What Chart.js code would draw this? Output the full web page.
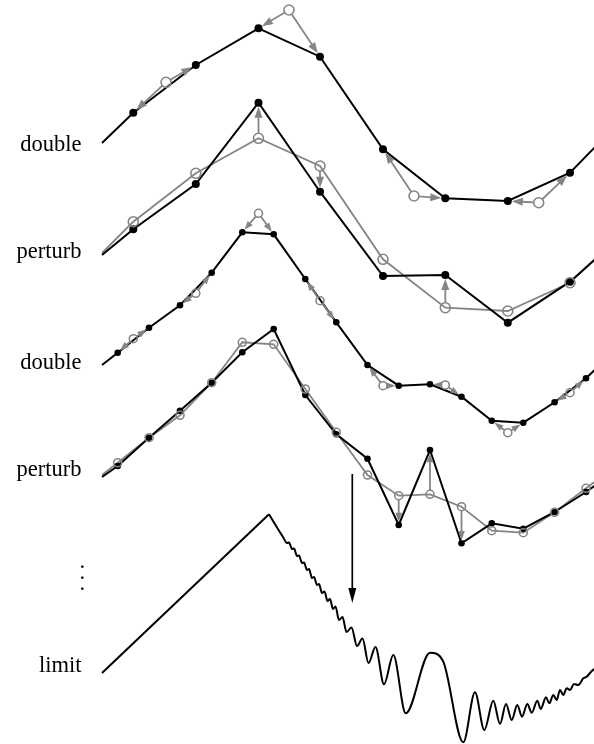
<!DOCTYPE html>
<html><head><meta charset="utf-8">
<style>html,body{margin:0;padding:0;background:#fff}canvas{display:block}</style>
<script src="https://cdn.jsdelivr.net/npm/chart.js@4/dist/chart.umd.min.js"></script>
</head><body>
<canvas id="c" width="594" height="744"></canvas>
<script>
// ---------- data ----------
const rowLabels = ['double', 'perturb', 'double', 'perturb', 'limit'];
const rowLabelY = [151, 258, 369, 476, 672];
const ellipsisY = [566, 577, 588];

// coarse level abscissae (rows 1, 2 and the grey circles of row 3)
const xCoarse = [133.3, 195.8, 258.5, 320, 383, 445.3, 507.8, 570];
// fine level abscissae (rows 3, 4)
const xFine = [117.7, 149, 180, 211.7, 242.3, 273.7, 305.3, 336.3, 367.5, 398.7, 430, 461.5, 491.8, 523.3, 554.6, 586];

const lineStartX = 102, lineEndX = 600;

// row 1 : double
const row1Black = [112.7, 65, 28.3, 56.7, 149.3, 198.3, 201, 172.7];
const row1Ends = [143, 142];
const row1GrayX = [166, 289, 414, 538.7];
const row1GrayY = [82.3, 10, 196, 202.7];

// row 2 : perturb
const row2Gray = [221.7, 173.3, 138.3, 166, 259.3, 307.7, 311, 282.7];
const row2GrayEnds = [253, 254];
const row2Black = [229.3, 184, 102.7, 191.7, 276, 275, 322.7, 281.7];
const row2BlackEnds = [255, 255];
const row2Moves = [2, 3, 5];

// row 3 : double
const row3Gray = [338.7, 293.3, 213.3, 300.7, 385.7, 385, 432.7, 392.7];
const row3Black = [352.7, 327.7, 305.3, 272.7, 232.3, 234.3, 279, 322.3, 365, 385.7, 384.3, 396.7, 420.7, 422.7, 402.3, 378.3];
const row3Ends = [365, 365];

// row 4 : perturb
const row4Gray = [462.7, 437.7, 415.3, 382.7, 342.3, 344.3, 389, 432.3, 475, 495.7, 494.3, 506.7, 530.7, 532.7, 512.3, 488.3];
const row4GrayEnds = [475, 478];
const row4Black = [466, 437.7, 410.7, 382.7, 352.3, 329, 395, 434.3, 458.7, 525, 450, 543.3, 523.3, 528.7, 512, 492];
const row4BlackEnds = [477, 482];
const row4Moves = [9, 10, 11];

// limit curve
const limitLineX = [102, 269];
const limitLineY = [673, 514.3];
const limitX = [269, 283, 287, 289, 292, 294, 297, 299, 302, 304, 307, 309, 312, 314, 317, 319, 322, 324.5, 327.5, 330, 333, 335.5, 339, 342.5, 346.5, 351.5, 357, 362.5, 368.5, 375.5, 384, 393.3, 405.7, 430, 443, 463.3, 475, 484.3, 493.3, 500, 506, 511.7, 517.3, 522, 527.3, 531.7, 537.3, 540.7, 546, 549.3, 553.3, 556.7, 560, 563.3, 566.7, 570, 574, 578.3, 583.3, 586.7, 590, 594, 600];
const limitY = [514.3, 537, 543, 542.5, 549, 548.5, 556, 555.5, 563, 562.5, 570, 569, 578, 577, 585, 584, 593, 591.5, 601, 599, 609, 606.5, 620, 617, 632, 627.5, 646, 638.5, 663, 647, 684.3, 655, 713.3, 652.7, 661, 742.3, 692.3, 730, 700.7, 724, 704, 720, 705, 716.7, 704, 712.7, 700.7, 709, 697.3, 703.3, 695, 700, 690, 695, 688.3, 690, 684, 685, 678.3, 676.7, 673, 669, 663];

// the big downward arrow
const limitArrowX = 352.3;
const limitArrowY = [474, 603];

// ---------- helpers ----------
const BLACK = '#000000', GRAY = '#858585';
function pts(xs, ys) { return xs.map((x, i) => ({ x: x, y: ys[i] })); }
function withEnds(xs, ys, ends) {
  return [{ x: lineStartX, y: ends[0] }].concat(pts(xs, ys), [{ x: lineEndX, y: ends[1] }]);
}
function lineDs(data, color, width, order) {
  return { data: data, showLine: true, borderColor: color, borderWidth: width, pointRadius: 0, pointHoverRadius: 0, fill: false, order: order };
}
function dotDs(data, r) {
  return { data: data, showLine: false, pointRadius: r, pointHoverRadius: r, pointBackgroundColor: BLACK, pointBorderColor: BLACK, pointBorderWidth: 0, order: 1 };
}
function ringDs(data, r) {
  return { data: data, showLine: false, pointRadius: r, pointHoverRadius: r, pointBackgroundColor: 'rgba(0,0,0,0)', pointBorderColor: GRAY, pointBorderWidth: 1.6, order: 0 };
}

// arrows, described by data references
const arrowList = [];
for (let i = 0; i < row1GrayX.length; i++) {
  for (const j of [2 * i, 2 * i + 1]) {
    arrowList.push({ x0: row1GrayX[i], y0: row1GrayY[i], x1: xCoarse[j], y1: row1Black[j], big: true });
  }
}
for (const k of row2Moves) arrowList.push({ x0: xCoarse[k], y0: row2Gray[k], x1: xCoarse[k], y1: row2Black[k], big: true });
for (let i = 0; i < xCoarse.length; i++) {
  for (const j of [2 * i, 2 * i + 1]) {
    arrowList.push({ x0: xCoarse[i], y0: row3Gray[i], x1: xFine[j], y1: row3Black[j], big: false });
  }
}
for (const k of row4Moves) arrowList.push({ x0: xFine[k], y0: row4Gray[k], x1: xFine[k], y1: row4Black[k], big: false });

function drawArrow(ctx, x0, y0, x1, y1, r0, r1, color, lw, len, half) {
  const dx = x1 - x0, dy = y1 - y0, d = Math.hypot(dx, dy);
  if (d < 1) return;
  const ux = dx / d, uy = dy / d;
  const sx = x0 + ux * r0, sy = y0 + uy * r0;
  const tx = x1 - ux * r1, ty = y1 - uy * r1;
  const bx = tx - ux * len, by = ty - uy * len;
  ctx.strokeStyle = color; ctx.fillStyle = color; ctx.lineWidth = lw;
  ctx.beginPath(); ctx.moveTo(sx, sy); ctx.lineTo(bx + ux * 1, by + uy * 1); ctx.stroke();
  ctx.beginPath();
  ctx.moveTo(tx, ty);
  ctx.lineTo(bx - uy * half, by + ux * half);
  ctx.lineTo(bx + uy * half, by - ux * half);
  ctx.closePath(); ctx.fill();
}

const decorPlugin = {
  id: 'decor',
  beforeDraw(chart) {
    const ctx = chart.ctx;
    ctx.save(); ctx.fillStyle = '#fff'; ctx.fillRect(0, 0, chart.width, chart.height); ctx.restore();
  },
  afterDatasetsDraw(chart) {
    const ctx = chart.ctx, xs = chart.scales.x, ys = chart.scales.y;
    ctx.save();
    for (const a of arrowList) {
      const r0 = a.big ? 5 : 4, r1 = a.big ? 4 : 3.2;
      drawArrow(ctx, xs.getPixelForValue(a.x0), ys.getPixelForValue(a.y0), xs.getPixelForValue(a.x1), ys.getPixelForValue(a.y1),
        r0, r1, GRAY, 1.8, a.big ? 11 : 9, a.big ? 4 : 3.3);
    }
    drawArrow(ctx, xs.getPixelForValue(limitArrowX), ys.getPixelForValue(limitArrowY[0]),
      xs.getPixelForValue(limitArrowX), ys.getPixelForValue(limitArrowY[1]), 0, 0, BLACK, 1.7, 15, 4);
    ctx.restore();
  },
  afterDraw(chart) {
    const ctx = chart.ctx, ys = chart.scales.y;
    ctx.save();
    ctx.fillStyle = '#000';
    ctx.font = '22.5px "Liberation Serif", "Times New Roman", Times, serif';
    ctx.textAlign = 'right';
    ctx.textBaseline = 'alphabetic';
    rowLabels.forEach((t, i) => {
      ctx.fillText(t, 81.5, ys.getPixelForValue(rowLabelY[i]));
    });
    ctx.textAlign = 'center';
    ellipsisY.forEach(y => ctx.fillText('.', 82.3, ys.getPixelForValue(y) + 1.5));
    ctx.restore();
  }
};

new Chart(document.getElementById('c'), {
  type: 'scatter',
  data: {
    datasets: [
      // grey lines (bottom)
      lineDs(withEnds(xCoarse, row2Gray, row2GrayEnds), GRAY, 1.8, 4),
      lineDs(withEnds(xFine, row4Gray, row4GrayEnds), GRAY, 1.8, 4),
      // black lines
      lineDs(withEnds(xCoarse, row1Black, row1Ends), BLACK, 2, 3),
      lineDs(withEnds(xCoarse, row2Black, row2BlackEnds), BLACK, 2, 3),
      lineDs(withEnds(xFine, row3Black, row3Ends), BLACK, 2, 3),
      lineDs(withEnds(xFine, row4Black, row4BlackEnds), BLACK, 2, 3),
      lineDs(pts(limitLineX, limitLineY), BLACK, 2, 3),
      Object.assign(lineDs(pts(limitX, limitY), BLACK, 2, 3), { cubicInterpolationMode: 'monotone' }),
      // black dots
      dotDs(pts(xCoarse, row1Black), 4),
      dotDs(pts(xCoarse, row2Black), 4),
      dotDs(pts(xFine, row3Black), 3.3),
      dotDs(pts(xFine, row4Black), 3.3),
      // grey rings
      ringDs(pts(row1GrayX, row1GrayY), 5),
      ringDs(pts(xCoarse, row2Gray), 5),
      ringDs(pts(xCoarse, row3Gray), 4),
      ringDs(pts(xFine, row4Gray), 4)
    ]
  },
  options: {
    responsive: false,
    animation: false,
    devicePixelRatio: 1,
    layout: { padding: 0, autoPadding: false },
    plugins: { legend: { display: false }, tooltip: { enabled: false } },
    events: [],
    scales: {
      x: { type: 'linear', min: 0, max: 594, display: false },
      y: { type: 'linear', min: 0, max: 744, reverse: true, display: false }
    }
  },
  plugins: [decorPlugin]
});
</script>
</body></html>
